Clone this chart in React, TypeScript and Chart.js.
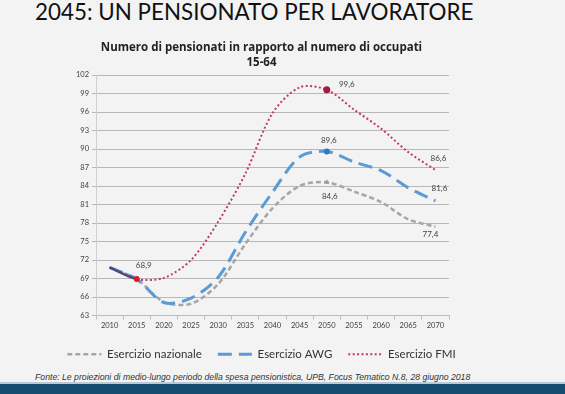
import React, { useEffect, useRef } from 'react';
import { Chart, registerables } from 'chart.js';

Chart.register(...registerables);

const slideTitle = '2045: UN PENSIONATO PER LAVORATORE';
const chartTitle = ['Numero di pensionati in rapporto al numero di occupati', '15-64'];
const sourceText =
  'Fonte: Le proiezioni di medio-lungo periodo della spesa pensionistica, UPB, Focus Tematico N.8, 28 giugno 2018';

const years = ['2010', '2015', '2020', '2025', '2030', '2035', '2040', '2045', '2050', '2055', '2060', '2065', '2070'];
const seriesNames = ['Esercizio nazionale', 'Esercizio AWG', 'Esercizio FMI'];
const nazionale = [70.8, 68.9, 65.2, 64.9, 68.1, 74.6, 80.4, 84.0, 84.6, 83.1, 81.4, 78.6, 77.4];
const awg = [70.8, 68.9, 65.1, 65.8, 69.2, 76.5, 83.0, 88.7, 89.6, 87.9, 86.5, 83.7, 81.6];
const fmi = [70.8, 68.9, 69.1, 72.0, 78.2, 86.0, 95.8, 100.0, 99.6, 96.4, 93.3, 89.5, 86.6];
const yMin = 63;
const yMax = 102;
const yStep = 3;

// which points carry a value label: [datasetIndex, pointIndex]
const labelledPoints: [number, number][] = [
  [2, 1],
  [2, 8],
  [1, 8],
  [0, 8],
  [2, 12],
  [1, 12],
  [0, 12],
];

const colors = ['#a6a6a6', '#5b9bd5', '#c23b5a'];
const dashes = [[5, 3], [14, 7], [2, 2.4]];
const widths = [2.5, 3, 2];

const fmt = (v: number) => v.toFixed(1).replace('.', ',');

export default function App() {
  const ref = useRef<HTMLCanvasElement>(null);

  useEffect(() => {
    if (!ref.current) return;

    const labelOffsets: Record<string, [number, number]> = {
      '2-1': [7, -14],
      '2-8': [20, -5],
      '1-8': [2, -11],
      '0-8': [3, 14],
      '2-12': [3, -12],
      '1-12': [4, -12],
      '0-12': [-5, 8],
    };

    const valueLabels = {
      id: 'valueLabels',
      afterDatasetsDraw(chart: any) {
        const ctx = chart.ctx;
        ctx.save();
        ctx.font = '8px Lato';
        ctx.fillStyle = '#3f3f3f';
        ctx.textAlign = 'center';
        ctx.textBaseline = 'middle';
        labelledPoints.forEach(([ds, idx]) => {
          const el = chart.getDatasetMeta(ds).data[idx];
          const off = labelOffsets[ds + '-' + idx] || [0, -10];
          const v = chart.data.datasets[ds].data[idx] as number;
          ctx.fillText(fmt(v), el.x + off[0], el.y + off[1]);
        });
        ctx.restore();
      },
    };

    const markerRadius = (ds: number) => (c: any) => {
      if (c.dataIndex === 8) return ds === 2 ? 3.5 : 3;
      if (ds === 2 && c.dataIndex === 1) return 3;
      return 0;
    };
    const markerColor = (ds: number) => (c: any) => {
      if (ds === 2) return c.dataIndex === 8 ? '#9c1c3c' : '#d8202c';
      if (ds === 1) return '#2f78c2';
      return '#9a9a9a';
    };

    const chart = new Chart(ref.current, {
      type: 'line',
      data: {
        labels: years,
        datasets: [
          {
            label: seriesNames[0],
            data: nazionale,
            borderColor: colors[0],
            borderDash: dashes[0],
            borderWidth: widths[0],
            pointRadius: markerRadius(0),
            pointStyle: 'triangle',
            pointBackgroundColor: markerColor(0),
            pointBorderColor: markerColor(0),
            pointBorderWidth: 0,
            tension: 0.3,
            fill: false,
            order: 2,
          },
          {
            label: seriesNames[1],
            data: awg,
            borderColor: colors[1],
            borderDash: dashes[1],
            borderWidth: widths[1],
            pointRadius: markerRadius(1),
            pointBackgroundColor: markerColor(1),
            pointBorderColor: markerColor(1),
            pointBorderWidth: 0,
            tension: 0.3,
            fill: false,
            order: 1,
          },
          {
            label: seriesNames[2],
            data: fmi,
            borderColor: colors[2],
            borderDash: dashes[2],
            borderWidth: widths[2],
            pointRadius: markerRadius(2),
            pointBackgroundColor: markerColor(2),
            pointBorderColor: markerColor(2),
            pointBorderWidth: 0,
            tension: 0.3,
            fill: false,
            order: 0,
            segment: {
              borderColor: (c: any) => (c.p0DataIndex === 0 ? '#4e4a7c' : undefined),
              borderDash: (c: any) => (c.p0DataIndex === 0 ? [] : undefined),
              borderWidth: (c: any) => (c.p0DataIndex === 0 ? 2.5 : undefined),
            },
          },
        ],
      },
      options: {
        responsive: false,
        animation: false,
        devicePixelRatio: 1,
        layout: { padding: { left: 48, right: 90, top: 0, bottom: 0 } },
        plugins: {
          title: {
            display: true,
            text: chartTitle,
            color: '#222222',
            font: { family: 'Open Sans', size: 11.5, weight: 'bold', lineHeight: 1.3 },
            padding: { top: 40, bottom: 5.1 },
          },
          legend: {
            display: true,
            position: 'bottom',
            labels: {
              usePointStyle: true,
              pointStyleWidth: 34,
              padding: 16,
              color: '#333333',
              font: { family: 'Lato', size: 11.5 },
              generateLabels: () =>
                seriesNames.map((name, i) => ({
                  text: name,
                  fillStyle: colors[i],
                  strokeStyle: colors[i],
                  lineWidth: widths[i],
                  lineDash: dashes[i],
                  pointStyle: 'line',
                  hidden: false,
                  datasetIndex: i,
                  fontColor: '#333333',
                })),
            },
          },
          tooltip: { enabled: false },
        },
        scales: {
          x: {
            type: 'category',
            offset: true,
            grid: { display: true, drawOnChartArea: false, offset: true, tickLength: 4, color: '#bdbdbd' },
            border: { display: true, color: '#bdbdbd' },
            ticks: {
              color: '#404040',
              font: { family: 'Lato', size: 7.5 },
              padding: 2,
              maxRotation: 0,
              autoSkip: false,
            },
            afterFit: (s: any) => {
              s.height = 17;
            },
          },
          y: {
            min: yMin,
            max: yMax,
            ticks: {
              stepSize: yStep,
              color: '#404040',
              font: { family: 'Lato', size: 7.5 },
              padding: 3,
            },
            grid: { color: '#b8b8b8', lineWidth: 1, tickLength: 4, drawTicks: true },
            border: { display: true, color: '#d0d0d0' },
            afterFit: (s: any) => {
              s.width = 48;
            },
          },
          spacer: {
            type: 'linear',
            position: 'right',
            display: true,
            grid: { display: false, drawTicks: false },
            border: { display: false },
            ticks: { display: false },
            afterFit: (s: any) => {
              s.width = 26;
            },
          },
        },
      },
      plugins: [valueLabels],
    });

    return () => chart.destroy();
  }, []);

  return (
    <div
      style={{
        position: 'fixed',
        left: 0,
        top: 0,
        width: 565,
        height: 394,
        background: '#f3f3f3',
        overflow: 'hidden',
      }}
    >
      <div
        style={{
          position: 'absolute',
          left: 35,
          top: 0,
          fontFamily: 'Lato, sans-serif',
          fontSize: 22.4,
          lineHeight: '24px',
          color: '#111111',
          whiteSpace: 'nowrap',
        }}
      >
        {slideTitle}
      </div>
      <canvas ref={ref} width={565} height={370} style={{ position: 'absolute', left: 0, top: 0 }} />
      <div
        style={{
          position: 'absolute',
          left: 35,
          top: 371,
          fontFamily: '"Liberation Sans", Arial, sans-serif',
          fontStyle: 'italic',
          fontSize: 8.7,
          lineHeight: '12px',
          color: '#333333',
          whiteSpace: 'nowrap',
        }}
      >
        {sourceText}
      </div>
      <div style={{ position: 'absolute', left: 0, top: 382, width: 565, height: 2, background: '#b9c9d6' }} />
      <div style={{ position: 'absolute', left: 0, top: 384, width: 565, height: 10, background: '#164b70' }} />
    </div>
  );
}
